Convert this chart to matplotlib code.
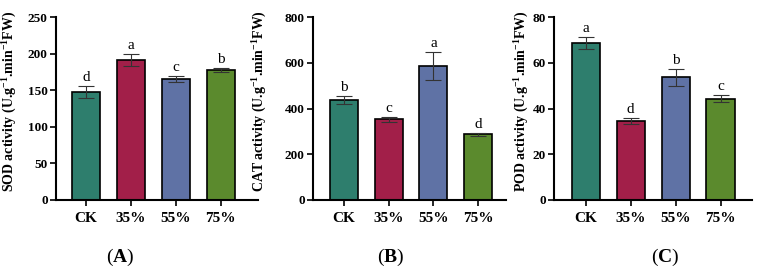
import matplotlib
matplotlib.use("Agg")
import matplotlib.pyplot as plt

plt.rcParams['font.family'] = ['Liberation Serif', 'DejaVu Serif']
plt.rcParams['mathtext.fontset'] = 'custom'
plt.rcParams['mathtext.rm'] = 'Liberation Serif'
plt.rcParams['mathtext.bf'] = 'Liberation Serif:bold'
plt.rcParams['mathtext.default'] = 'regular'

categories = ["CK", "35%", "55%", "75%"]
colors = ["#2E7E6D", "#A21F49", "#5F72A5", "#5B8A2D"]

sod_mean = [148, 192, 165, 177.5]
sod_err = [8.5, 8, 4, 2.7]
sod_letters = ["d", "a", "c", "b"]

cat_mean = [439, 354, 587, 288]
cat_err = [18, 11, 62, 6]
cat_letters = ["b", "c", "a", "d"]

pod_mean = [68.8, 34.5, 53.7, 44.4]
pod_err = [2.6, 1.4, 3.7, 1.4]
pod_letters = ["a", "d", "b", "c"]

W, H = 757, 272
fig = plt.figure(figsize=(W / 100, H / 100), dpi=100)

panels = [
    dict(mean=sod_mean, err=sod_err, letters=sod_letters, ymax=250, step=50,
         ylabel="SOD activity (U.g$^{-1}$.min$^{-1}$FW)",
         box=(56, 258), xlim=(-0.668, 3.83), ylx=10, tag="A", tagx=120),
    dict(mean=cat_mean, err=cat_err, letters=cat_letters, ymax=800, step=200,
         ylabel="CAT activity (U.g$^{-1}$.min$^{-1}$FW)",
         box=(313, 506), xlim=(-0.687, 3.62), ylx=260, tag="B", tagx=391),
    dict(mean=pod_mean, err=pod_err, letters=pod_letters, ymax=80, step=20,
         ylabel="POD activity (U.g$^{-1}$.min$^{-1}$FW)",
         box=(554, 752), xlim=(-0.706, 3.7), ylx=522, tag="C", tagx=665),
]

y_bot, y_top = 200, 17.3
for p in panels:
    x0, x1 = p["box"]
    ax = fig.add_axes([x0 / W, 1 - y_bot / H, (x1 - x0) / W, (y_bot - y_top) / H])
    xs = list(range(len(categories)))
    ax.bar(xs, p["mean"], width=0.625, color=colors, edgecolor="black",
           linewidth=1.2, zorder=2)
    ax.errorbar(xs, p["mean"], yerr=p["err"], fmt="none", ecolor="#333333",
                elinewidth=0.8, capsize=5.8, capthick=0.8, zorder=3)
    for x, m, e, l in zip(xs, p["mean"], p["err"], p["letters"]):
        ax.annotate(l, (x, m + e), xytext=(0, 1.5), textcoords="offset points",
                    ha="center", va="bottom", fontsize=11)
    ax.set_xlim(*p["xlim"])
    ax.set_ylim(0, p["ymax"])
    ax.set_yticks(range(0, p["ymax"] + 1, p["step"]))
    ax.set_xticks(xs)
    ax.set_xticklabels(categories, fontsize=11, fontweight="bold")
    for lab in ax.get_yticklabels():
        lab.set_fontweight("bold")
        lab.set_fontsize(9.5)
    for s in ["top", "right"]:
        ax.spines[s].set_visible(False)
    for s in ["left", "bottom"]:
        ax.spines[s].set_linewidth(1.5)
    ax.tick_params(axis="y", length=4, width=1.2, pad=2)
    ax.tick_params(axis="x", length=4, width=1.2, pad=5)
    fig.text(p["ylx"] / W, 1 - 101.5 / H, p["ylabel"], rotation=90,
             ha="center", va="center", fontsize=10, fontweight="bold")
    fig.text(p["tagx"] / W, 1 - 257.5 / H, "($\\mathbf{%s}$)" % p["tag"],
             ha="center", va="center", fontsize=14)

fig.savefig("out.png", dpi=100)
